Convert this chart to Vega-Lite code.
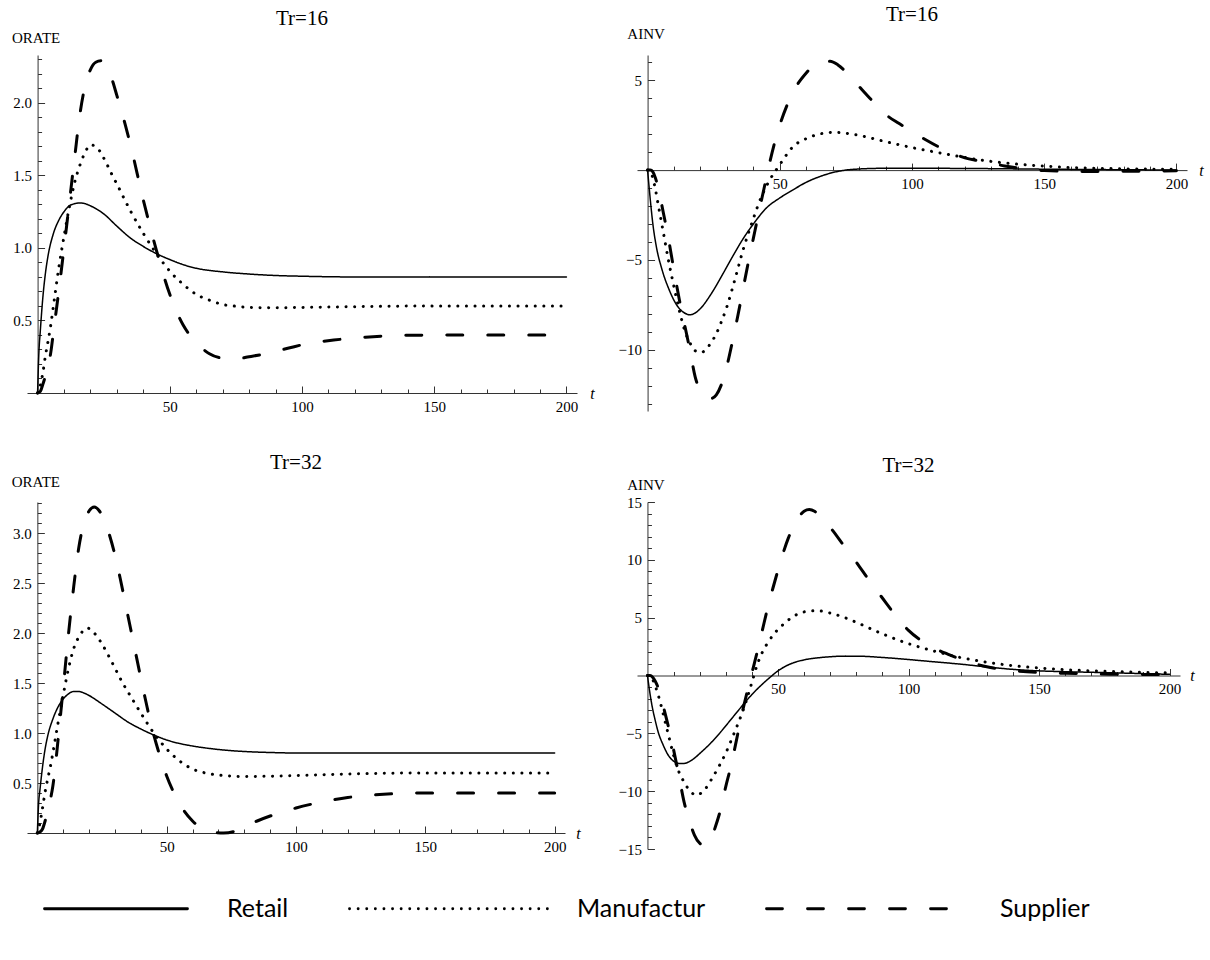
{
"$schema": "https://vega.github.io/schema/vega-lite/v6.json",
"padding": {"left": 11, "top": 4, "right": 5, "bottom": 2},
"background": "white",
"columns": 2,
"spacing": {"row": 35, "column": 22},
"datasets": {
"p1": [
{"s":"Retail","t":0,"v":0},{"s":"Retail","t":0.5,"v":0.28},{"s":"Retail","t":1,"v":0.42},{"s":"Retail","t":2,"v":0.66},{"s":"Retail","t":3,"v":0.83},{"s":"Retail","t":4,"v":0.95},{"s":"Retail","t":6,"v":1.1},{"s":"Retail","t":8,"v":1.19},{"s":"Retail","t":10,"v":1.25},{"s":"Retail","t":12,"v":1.29},{"s":"Retail","t":14,"v":1.305},{"s":"Retail","t":16,"v":1.31},{"s":"Retail","t":18,"v":1.305},{"s":"Retail","t":20,"v":1.29},{"s":"Retail","t":25,"v":1.235},{"s":"Retail","t":30,"v":1.15},{"s":"Retail","t":35,"v":1.07},{"s":"Retail","t":40,"v":1.01},{"s":"Retail","t":45,"v":0.96},{"s":"Retail","t":50,"v":0.92},{"s":"Retail","t":55,"v":0.885},{"s":"Retail","t":60,"v":0.86},{"s":"Retail","t":70,"v":0.835},{"s":"Retail","t":80,"v":0.82},{"s":"Retail","t":90,"v":0.81},{"s":"Retail","t":100,"v":0.805},{"s":"Retail","t":120,"v":0.8},{"s":"Retail","t":150,"v":0.8},{"s":"Retail","t":200,"v":0.8},
{"s":"Manufactur","t":0,"v":0},{"s":"Manufactur","t":1,"v":0.05},{"s":"Manufactur","t":2,"v":0.14},{"s":"Manufactur","t":3,"v":0.26},{"s":"Manufactur","t":4,"v":0.36},{"s":"Manufactur","t":5,"v":0.47},{"s":"Manufactur","t":6,"v":0.6},{"s":"Manufactur","t":8,"v":0.86},{"s":"Manufactur","t":10,"v":1.08},{"s":"Manufactur","t":12,"v":1.28},{"s":"Manufactur","t":14,"v":1.45},{"s":"Manufactur","t":16,"v":1.57},{"s":"Manufactur","t":18,"v":1.66},{"s":"Manufactur","t":20,"v":1.71},{"s":"Manufactur","t":22,"v":1.7},{"s":"Manufactur","t":25,"v":1.62},{"s":"Manufactur","t":28,"v":1.51},{"s":"Manufactur","t":30,"v":1.44},{"s":"Manufactur","t":35,"v":1.26},{"s":"Manufactur","t":40,"v":1.1},{"s":"Manufactur","t":45,"v":0.96},{"s":"Manufactur","t":50,"v":0.84},{"s":"Manufactur","t":55,"v":0.75},{"s":"Manufactur","t":60,"v":0.68},{"s":"Manufactur","t":65,"v":0.64},{"s":"Manufactur","t":70,"v":0.61},{"s":"Manufactur","t":75,"v":0.598},{"s":"Manufactur","t":80,"v":0.59},{"s":"Manufactur","t":90,"v":0.587},{"s":"Manufactur","t":100,"v":0.59},{"s":"Manufactur","t":120,"v":0.595},{"s":"Manufactur","t":150,"v":0.6},{"s":"Manufactur","t":200,"v":0.6},
{"s":"Supplier","t":0,"v":0},{"s":"Supplier","t":1,"v":0.01},{"s":"Supplier","t":2,"v":0.06},{"s":"Supplier","t":3,"v":0.12},{"s":"Supplier","t":4,"v":0.19},{"s":"Supplier","t":5,"v":0.28},{"s":"Supplier","t":6,"v":0.42},{"s":"Supplier","t":7,"v":0.56},{"s":"Supplier","t":8,"v":0.7},{"s":"Supplier","t":10,"v":1.0},{"s":"Supplier","t":12,"v":1.31},{"s":"Supplier","t":14,"v":1.62},{"s":"Supplier","t":16,"v":1.92},{"s":"Supplier","t":18,"v":2.12},{"s":"Supplier","t":20,"v":2.23},{"s":"Supplier","t":22,"v":2.28},{"s":"Supplier","t":24,"v":2.29},{"s":"Supplier","t":26,"v":2.25},{"s":"Supplier","t":28,"v":2.17},{"s":"Supplier","t":30,"v":2.05},{"s":"Supplier","t":33,"v":1.86},{"s":"Supplier","t":35,"v":1.72},{"s":"Supplier","t":40,"v":1.33},{"s":"Supplier","t":45,"v":0.98},{"s":"Supplier","t":50,"v":0.68},{"s":"Supplier","t":55,"v":0.47},{"s":"Supplier","t":60,"v":0.35},{"s":"Supplier","t":65,"v":0.27},{"s":"Supplier","t":70,"v":0.24},{"s":"Supplier","t":75,"v":0.235},{"s":"Supplier","t":80,"v":0.25},{"s":"Supplier","t":86,"v":0.27},{"s":"Supplier","t":95,"v":0.31},{"s":"Supplier","t":102,"v":0.34},{"s":"Supplier","t":112,"v":0.365},{"s":"Supplier","t":124,"v":0.385},{"s":"Supplier","t":140,"v":0.398},{"s":"Supplier","t":160,"v":0.4},{"s":"Supplier","t":200,"v":0.4}
],
"p2": [
{"s":"Retail","t":0,"v":0},{"s":"Retail","t":1,"v":-1.6},{"s":"Retail","t":2,"v":-3.0},{"s":"Retail","t":3,"v":-4.0},{"s":"Retail","t":4,"v":-4.75},{"s":"Retail","t":5,"v":-5.3},{"s":"Retail","t":6,"v":-5.8},{"s":"Retail","t":8,"v":-6.6},{"s":"Retail","t":10,"v":-7.25},{"s":"Retail","t":12,"v":-7.7},{"s":"Retail","t":14,"v":-7.95},{"s":"Retail","t":16,"v":-8.05},{"s":"Retail","t":18,"v":-7.95},{"s":"Retail","t":20,"v":-7.7},{"s":"Retail","t":24,"v":-6.9},{"s":"Retail","t":28,"v":-5.9},{"s":"Retail","t":32,"v":-4.85},{"s":"Retail","t":36,"v":-3.85},{"s":"Retail","t":40,"v":-3.0},{"s":"Retail","t":45,"v":-2.1},{"s":"Retail","t":50,"v":-1.55},{"s":"Retail","t":55,"v":-1.1},{"s":"Retail","t":60,"v":-0.68},{"s":"Retail","t":65,"v":-0.37},{"s":"Retail","t":70,"v":-0.14},{"s":"Retail","t":75,"v":0.0},{"s":"Retail","t":80,"v":0.06},{"s":"Retail","t":90,"v":0.1},{"s":"Retail","t":100,"v":0.1},{"s":"Retail","t":120,"v":0.09},{"s":"Retail","t":150,"v":0.05},{"s":"Retail","t":200,"v":0.0},
{"s":"Manufactur","t":0,"v":0},{"s":"Manufactur","t":1,"v":-0.05},{"s":"Manufactur","t":2,"v":-0.45},{"s":"Manufactur","t":3,"v":-1.1},{"s":"Manufactur","t":4,"v":-1.9},{"s":"Manufactur","t":5,"v":-2.7},{"s":"Manufactur","t":6,"v":-3.5},{"s":"Manufactur","t":8,"v":-5.1},{"s":"Manufactur","t":10,"v":-6.5},{"s":"Manufactur","t":12,"v":-7.8},{"s":"Manufactur","t":14,"v":-8.9},{"s":"Manufactur","t":16,"v":-9.6},{"s":"Manufactur","t":18,"v":-10.05},{"s":"Manufactur","t":20,"v":-10.15},{"s":"Manufactur","t":22,"v":-10.0},{"s":"Manufactur","t":24,"v":-9.6},{"s":"Manufactur","t":26,"v":-9.1},{"s":"Manufactur","t":28,"v":-8.4},{"s":"Manufactur","t":30,"v":-7.6},{"s":"Manufactur","t":33,"v":-6.1},{"s":"Manufactur","t":36,"v":-4.5},{"s":"Manufactur","t":40,"v":-2.7},{"s":"Manufactur","t":43,"v":-1.5},{"s":"Manufactur","t":46,"v":-0.6},{"s":"Manufactur","t":50,"v":0.3},{"s":"Manufactur","t":55,"v":1.3},{"s":"Manufactur","t":60,"v":1.75},{"s":"Manufactur","t":65,"v":2.0},{"s":"Manufactur","t":70,"v":2.1},{"s":"Manufactur","t":75,"v":2.05},{"s":"Manufactur","t":80,"v":1.93},{"s":"Manufactur","t":90,"v":1.58},{"s":"Manufactur","t":100,"v":1.25},{"s":"Manufactur","t":110,"v":0.97},{"s":"Manufactur","t":120,"v":0.7},{"s":"Manufactur","t":130,"v":0.48},{"s":"Manufactur","t":140,"v":0.33},{"s":"Manufactur","t":150,"v":0.22},{"s":"Manufactur","t":160,"v":0.14},{"s":"Manufactur","t":180,"v":0.07},{"s":"Manufactur","t":200,"v":0.04},
{"s":"Supplier","t":0,"v":0},{"s":"Supplier","t":1,"v":0},{"s":"Supplier","t":2,"v":-0.1},{"s":"Supplier","t":3,"v":-0.45},{"s":"Supplier","t":4,"v":-1.0},{"s":"Supplier","t":6,"v":-2.4},{"s":"Supplier","t":8,"v":-3.9},{"s":"Supplier","t":10,"v":-5.6},{"s":"Supplier","t":12,"v":-7.2},{"s":"Supplier","t":14,"v":-8.6},{"s":"Supplier","t":16,"v":-10.0},{"s":"Supplier","t":18,"v":-11.5},{"s":"Supplier","t":20,"v":-12.3},{"s":"Supplier","t":22,"v":-12.65},{"s":"Supplier","t":24,"v":-12.7},{"s":"Supplier","t":26,"v":-12.5},{"s":"Supplier","t":28,"v":-11.9},{"s":"Supplier","t":30,"v":-10.9},{"s":"Supplier","t":32,"v":-9.6},{"s":"Supplier","t":34,"v":-8.2},{"s":"Supplier","t":36,"v":-6.7},{"s":"Supplier","t":38,"v":-5.2},{"s":"Supplier","t":40,"v":-3.8},{"s":"Supplier","t":42,"v":-2.4},{"s":"Supplier","t":44,"v":-1.05},{"s":"Supplier","t":46,"v":0.3},{"s":"Supplier","t":48,"v":1.5},{"s":"Supplier","t":50,"v":2.5},{"s":"Supplier","t":53,"v":3.7},{"s":"Supplier","t":56,"v":4.6},{"s":"Supplier","t":60,"v":5.4},{"s":"Supplier","t":63,"v":5.85},{"s":"Supplier","t":66,"v":6.05},{"s":"Supplier","t":69,"v":6.05},{"s":"Supplier","t":72,"v":5.85},{"s":"Supplier","t":76,"v":5.3},{"s":"Supplier","t":80,"v":4.65},{"s":"Supplier","t":85,"v":3.85},{"s":"Supplier","t":90,"v":3.1},{"s":"Supplier","t":95,"v":2.6},{"s":"Supplier","t":100,"v":2.15},{"s":"Supplier","t":105,"v":1.7},{"s":"Supplier","t":110,"v":1.3},{"s":"Supplier","t":115,"v":0.97},{"s":"Supplier","t":120,"v":0.68},{"s":"Supplier","t":125,"v":0.52},{"s":"Supplier","t":130,"v":0.38},{"s":"Supplier","t":135,"v":0.23},{"s":"Supplier","t":140,"v":0.12},{"s":"Supplier","t":150,"v":-0.03},{"s":"Supplier","t":165,"v":-0.08},{"s":"Supplier","t":180,"v":-0.07},{"s":"Supplier","t":200,"v":-0.04}
],
"p3": [
{"s":"Retail","t":0,"v":0},{"s":"Retail","t":0.5,"v":0.3},{"s":"Retail","t":1,"v":0.43},{"s":"Retail","t":2,"v":0.66},{"s":"Retail","t":3,"v":0.84},{"s":"Retail","t":4,"v":0.97},{"s":"Retail","t":6,"v":1.14},{"s":"Retail","t":8,"v":1.26},{"s":"Retail","t":10,"v":1.34},{"s":"Retail","t":12,"v":1.39},{"s":"Retail","t":14,"v":1.415},{"s":"Retail","t":16,"v":1.415},{"s":"Retail","t":18,"v":1.4},{"s":"Retail","t":20,"v":1.375},{"s":"Retail","t":25,"v":1.29},{"s":"Retail","t":30,"v":1.2},{"s":"Retail","t":35,"v":1.11},{"s":"Retail","t":40,"v":1.04},{"s":"Retail","t":45,"v":0.98},{"s":"Retail","t":50,"v":0.93},{"s":"Retail","t":55,"v":0.895},{"s":"Retail","t":60,"v":0.87},{"s":"Retail","t":70,"v":0.835},{"s":"Retail","t":80,"v":0.815},{"s":"Retail","t":90,"v":0.805},{"s":"Retail","t":100,"v":0.8},{"s":"Retail","t":200,"v":0.8},
{"s":"Manufactur","t":0,"v":0},{"s":"Manufactur","t":1,"v":0.1},{"s":"Manufactur","t":2,"v":0.25},{"s":"Manufactur","t":3,"v":0.41},{"s":"Manufactur","t":4,"v":0.54},{"s":"Manufactur","t":5,"v":0.66},{"s":"Manufactur","t":6,"v":0.8},{"s":"Manufactur","t":8,"v":1.1},{"s":"Manufactur","t":10,"v":1.38},{"s":"Manufactur","t":12,"v":1.64},{"s":"Manufactur","t":14,"v":1.84},{"s":"Manufactur","t":16,"v":1.96},{"s":"Manufactur","t":18,"v":2.03},{"s":"Manufactur","t":19,"v":2.05},{"s":"Manufactur","t":20,"v":2.045},{"s":"Manufactur","t":22,"v":2.0},{"s":"Manufactur","t":25,"v":1.89},{"s":"Manufactur","t":28,"v":1.75},{"s":"Manufactur","t":30,"v":1.65},{"s":"Manufactur","t":33,"v":1.5},{"s":"Manufactur","t":36,"v":1.37},{"s":"Manufactur","t":40,"v":1.2},{"s":"Manufactur","t":45,"v":1.0},{"s":"Manufactur","t":50,"v":0.84},{"s":"Manufactur","t":55,"v":0.72},{"s":"Manufactur","t":60,"v":0.64},{"s":"Manufactur","t":65,"v":0.6},{"s":"Manufactur","t":70,"v":0.58},{"s":"Manufactur","t":80,"v":0.565},{"s":"Manufactur","t":90,"v":0.568},{"s":"Manufactur","t":100,"v":0.575},{"s":"Manufactur","t":120,"v":0.59},{"s":"Manufactur","t":150,"v":0.6},{"s":"Manufactur","t":200,"v":0.6},
{"s":"Supplier","t":0,"v":0},{"s":"Supplier","t":1,"v":0.01},{"s":"Supplier","t":2,"v":0.04},{"s":"Supplier","t":3,"v":0.12},{"s":"Supplier","t":4,"v":0.22},{"s":"Supplier","t":5,"v":0.33},{"s":"Supplier","t":6,"v":0.47},{"s":"Supplier","t":7,"v":0.68},{"s":"Supplier","t":8,"v":0.93},{"s":"Supplier","t":10,"v":1.45},{"s":"Supplier","t":12,"v":1.98},{"s":"Supplier","t":14,"v":2.45},{"s":"Supplier","t":16,"v":2.85},{"s":"Supplier","t":18,"v":3.1},{"s":"Supplier","t":20,"v":3.22},{"s":"Supplier","t":22,"v":3.26},{"s":"Supplier","t":24,"v":3.22},{"s":"Supplier","t":26,"v":3.12},{"s":"Supplier","t":28,"v":2.97},{"s":"Supplier","t":30,"v":2.78},{"s":"Supplier","t":32,"v":2.55},{"s":"Supplier","t":34,"v":2.3},{"s":"Supplier","t":36,"v":2.05},{"s":"Supplier","t":38,"v":1.8},{"s":"Supplier","t":40,"v":1.55},{"s":"Supplier","t":42,"v":1.31},{"s":"Supplier","t":44,"v":1.08},{"s":"Supplier","t":46,"v":0.89},{"s":"Supplier","t":48,"v":0.72},{"s":"Supplier","t":50,"v":0.57},{"s":"Supplier","t":53,"v":0.39},{"s":"Supplier","t":56,"v":0.25},{"s":"Supplier","t":60,"v":0.12},{"s":"Supplier","t":64,"v":0.04},{"s":"Supplier","t":68,"v":0.005},{"s":"Supplier","t":72,"v":0.0},{"s":"Supplier","t":76,"v":0.015},{"s":"Supplier","t":80,"v":0.06},{"s":"Supplier","t":85,"v":0.12},{"s":"Supplier","t":90,"v":0.17},{"s":"Supplier","t":95,"v":0.21},{"s":"Supplier","t":100,"v":0.25},{"s":"Supplier","t":110,"v":0.31},{"s":"Supplier","t":120,"v":0.355},{"s":"Supplier","t":130,"v":0.38},{"s":"Supplier","t":140,"v":0.395},{"s":"Supplier","t":150,"v":0.4},{"s":"Supplier","t":200,"v":0.4}
],
"p4": [
{"s":"Retail","t":0,"v":0},{"s":"Retail","t":1,"v":-1.6},{"s":"Retail","t":2,"v":-2.9},{"s":"Retail","t":3,"v":-3.9},{"s":"Retail","t":4,"v":-4.8},{"s":"Retail","t":6,"v":-6.0},{"s":"Retail","t":8,"v":-6.9},{"s":"Retail","t":10,"v":-7.4},{"s":"Retail","t":12,"v":-7.6},{"s":"Retail","t":14,"v":-7.6},{"s":"Retail","t":16,"v":-7.45},{"s":"Retail","t":18,"v":-7.15},{"s":"Retail","t":20,"v":-6.75},{"s":"Retail","t":24,"v":-5.9},{"s":"Retail","t":28,"v":-4.9},{"s":"Retail","t":32,"v":-3.8},{"s":"Retail","t":36,"v":-2.7},{"s":"Retail","t":40,"v":-1.65},{"s":"Retail","t":44,"v":-0.75},{"s":"Retail","t":47,"v":-0.15},{"s":"Retail","t":50,"v":0.4},{"s":"Retail","t":55,"v":1.02},{"s":"Retail","t":60,"v":1.35},{"s":"Retail","t":65,"v":1.52},{"s":"Retail","t":70,"v":1.62},{"s":"Retail","t":75,"v":1.67},{"s":"Retail","t":80,"v":1.67},{"s":"Retail","t":90,"v":1.56},{"s":"Retail","t":100,"v":1.38},{"s":"Retail","t":110,"v":1.18},{"s":"Retail","t":120,"v":0.98},{"s":"Retail","t":130,"v":0.74},{"s":"Retail","t":140,"v":0.53},{"s":"Retail","t":150,"v":0.4},{"s":"Retail","t":160,"v":0.33},{"s":"Retail","t":175,"v":0.25},{"s":"Retail","t":200,"v":0.1},
{"s":"Manufactur","t":0,"v":0},{"s":"Manufactur","t":1,"v":-0.05},{"s":"Manufactur","t":2,"v":-0.35},{"s":"Manufactur","t":3,"v":-0.9},{"s":"Manufactur","t":4,"v":-1.6},{"s":"Manufactur","t":5,"v":-2.4},{"s":"Manufactur","t":6,"v":-3.3},{"s":"Manufactur","t":8,"v":-5.1},{"s":"Manufactur","t":10,"v":-6.9},{"s":"Manufactur","t":12,"v":-8.3},{"s":"Manufactur","t":14,"v":-9.2},{"s":"Manufactur","t":16,"v":-9.9},{"s":"Manufactur","t":18,"v":-10.3},{"s":"Manufactur","t":19,"v":-10.35},{"s":"Manufactur","t":20,"v":-10.25},{"s":"Manufactur","t":22,"v":-9.85},{"s":"Manufactur","t":25,"v":-8.8},{"s":"Manufactur","t":28,"v":-7.6},{"s":"Manufactur","t":30,"v":-6.7},{"s":"Manufactur","t":33,"v":-5.1},{"s":"Manufactur","t":36,"v":-3.4},{"s":"Manufactur","t":38,"v":-2.1},{"s":"Manufactur","t":40,"v":-0.6},{"s":"Manufactur","t":42,"v":0.9},{"s":"Manufactur","t":44,"v":2.0},{"s":"Manufactur","t":46,"v":2.8},{"s":"Manufactur","t":48.5,"v":3.6},{"s":"Manufactur","t":51,"v":4.2},{"s":"Manufactur","t":54,"v":4.8},{"s":"Manufactur","t":57,"v":5.25},{"s":"Manufactur","t":60,"v":5.5},{"s":"Manufactur","t":65,"v":5.6},{"s":"Manufactur","t":70,"v":5.4},{"s":"Manufactur","t":75,"v":5.05},{"s":"Manufactur","t":80,"v":4.6},{"s":"Manufactur","t":90,"v":3.6},{"s":"Manufactur","t":100,"v":2.75},{"s":"Manufactur","t":110,"v":2.1},{"s":"Manufactur","t":120,"v":1.55},{"s":"Manufactur","t":130,"v":1.15},{"s":"Manufactur","t":140,"v":0.85},{"s":"Manufactur","t":150,"v":0.65},{"s":"Manufactur","t":160,"v":0.5},{"s":"Manufactur","t":175,"v":0.37},{"s":"Manufactur","t":200,"v":0.22},
{"s":"Supplier","t":0,"v":0},{"s":"Supplier","t":1,"v":0},{"s":"Supplier","t":2,"v":-0.15},{"s":"Supplier","t":3,"v":-0.5},{"s":"Supplier","t":4,"v":-1.0},{"s":"Supplier","t":6,"v":-2.6},{"s":"Supplier","t":8,"v":-4.4},{"s":"Supplier","t":10,"v":-6.4},{"s":"Supplier","t":12,"v":-8.6},{"s":"Supplier","t":14,"v":-10.9},{"s":"Supplier","t":16,"v":-12.5},{"s":"Supplier","t":18,"v":-13.8},{"s":"Supplier","t":20,"v":-14.5},{"s":"Supplier","t":22,"v":-14.7},{"s":"Supplier","t":24,"v":-14.3},{"s":"Supplier","t":26,"v":-13.1},{"s":"Supplier","t":28,"v":-11.6},{"s":"Supplier","t":30,"v":-9.6},{"s":"Supplier","t":32,"v":-7.8},{"s":"Supplier","t":34,"v":-5.7},{"s":"Supplier","t":36,"v":-3.5},{"s":"Supplier","t":38,"v":-1.6},{"s":"Supplier","t":40,"v":0.2},{"s":"Supplier","t":42,"v":2.0},{"s":"Supplier","t":44,"v":3.9},{"s":"Supplier","t":46,"v":5.8},{"s":"Supplier","t":48,"v":7.5},{"s":"Supplier","t":50,"v":9.1},{"s":"Supplier","t":52,"v":10.6},{"s":"Supplier","t":54,"v":11.9},{"s":"Supplier","t":56,"v":12.9},{"s":"Supplier","t":58,"v":13.7},{"s":"Supplier","t":60,"v":14.2},{"s":"Supplier","t":62,"v":14.35},{"s":"Supplier","t":64,"v":14.2},{"s":"Supplier","t":66,"v":13.8},{"s":"Supplier","t":70,"v":12.8},{"s":"Supplier","t":75,"v":11.3},{"s":"Supplier","t":80,"v":9.8},{"s":"Supplier","t":85,"v":8.2},{"s":"Supplier","t":90,"v":6.7},{"s":"Supplier","t":95,"v":5.2},{"s":"Supplier","t":100,"v":3.9},{"s":"Supplier","t":105,"v":3.0},{"s":"Supplier","t":110,"v":2.35},{"s":"Supplier","t":115,"v":1.85},{"s":"Supplier","t":120,"v":1.4},{"s":"Supplier","t":125,"v":1.05},{"s":"Supplier","t":130,"v":0.75},{"s":"Supplier","t":135,"v":0.57},{"s":"Supplier","t":140,"v":0.43},{"s":"Supplier","t":150,"v":0.26},{"s":"Supplier","t":165,"v":0.17},{"s":"Supplier","t":180,"v":0.1},{"s":"Supplier","t":200,"v":0.09}
]
},
"concat": [
{
"width": 550, "height": 338,
"title": {"text": "Tr=16"},
"data": {"name": "p1"},
"encoding": {
"x": {"field": "t", "type": "quantitative", "scale": {"domain": [-4, 204], "nice": false, "zero": false},
 "axis": {"values": [10,20,30,40,50,60,70,80,90,100,110,120,130,140,150,160,170,180,190,200], "labelExpr": "datum.value % 50 === 0 ? datum.label : ''", "tickSize": {"condition": {"test": "datum.value % 50 === 0", "value": -7}, "value": -4}, "labelPadding": 13, "labelFont": "Liberation Serif", "labelFontSize": 15, "titleFont": "Liberation Serif", "title": "t", "titleFontStyle": "italic", "titleFontWeight": "normal", "titleFontSize": 16, "titleX": 565, "titleY": 0, "titleAlign": "center", "titleBaseline": "middle", "titleAngle": 0}},
"y": {"field": "v", "type": "quantitative", "scale": {"domain": [0, 2.33], "nice": false, "zero": false},
 "axis": {"values": [0.1,0.2,0.3,0.4,0.5,0.6,0.7,0.8,0.9,1.0,1.1,1.2,1.3,1.4,1.5,1.6,1.7,1.8,1.9,2.0,2.1,2.2,2.3], "labelExpr": "round(datum.value*10) % 5 === 0 ? format(datum.value, '.1f') : ''", "tickSize": {"condition": {"test": "round(datum.value*10) % 5 === 0", "value": -7}, "value": -4}, "offset": -10.58, "labelPadding": 13, "labelFont": "Liberation Serif", "labelFontSize": 15, "titleFont": "Liberation Serif", "titleFontWeight": "normal", "titleFontSize": 15, "title": "ORATE", "titleAngle": 0, "titleX": -2, "titleY": -18, "titleAlign": "center", "titleBaseline": "middle"}},
"strokeDash": {"field": "s", "type": "nominal", "scale": {"domain": ["Retail","Manufactur","Supplier"], "range": [[1,0],[0.1,8.5],[16,25]]},
 "legend": {"orient": "none", "legendX": 67, "legendY": 832, "direction": "horizontal", "title": null, "symbolType": "M-3.6,0H3.6", "symbolSize": 1600, "symbolStrokeWidth": 2.8, "symbolStrokeColor": "black", "labelFont": "Lato", "labelFontSize": 25, "labelColor": "black", "labelOffset": 90, "columnPadding": 54, "encode": {"symbols": {"update": {"shape": {"signal": "datum.value === 'Retail' ? 'M-3.55,0H3.6' : (datum.value === 'Manufactur' ? 'M-5.8,0H4.1' : 'M-6.1,0H3.25')"}, "strokeCap": {"value": "round"}, "stroke": {"value": "black"}, "strokeOpacity": {"value": 1}}}}}}
},
"layer": [
{"transform": [{"filter": "datum.s === 'Retail'"}], "mark": {"type": "line", "strokeWidth": 1.5}},
{"transform": [{"filter": "datum.s === 'Manufactur'"}], "mark": {"type": "line", "strokeWidth": 3}},
{"transform": [{"filter": "datum.s === 'Supplier'"}], "mark": {"type": "line", "strokeWidth": 3}}
]
},
{
"width": 550, "height": 356,
"title": {"text": "Tr=16"},
"data": {"name": "p2"},
"encoding": {
"x": {"field": "t", "type": "quantitative", "scale": {"domain": [-4, 204], "nice": false, "zero": false},
 "axis": {"values": [10,20,30,40,50,60,70,80,90,100,110,120,130,140,150,160,170,180,190,200], "labelExpr": "datum.value % 50 === 0 ? datum.label : ''", "tickSize": {"condition": {"test": "datum.value % 50 === 0", "value": -7}, "value": -4}, "labelPadding": 13, "labelFont": "Liberation Serif", "labelFontSize": 15, "titleFont": "Liberation Serif", "offset": -240.9, "title": "t", "titleFontStyle": "italic", "titleFontWeight": "normal", "titleFontSize": 16, "titleX": 564, "titleY": 0, "titleAlign": "center", "titleBaseline": "middle", "titleAngle": 0}},
"y": {"field": "v", "type": "quantitative", "scale": {"domain": [-13.4, 6.4], "nice": false, "zero": false},
 "axis": {"values": [-13,-12,-11,-10,-9,-8,-7,-6,-5,-4,-3,-2,-1,1,2,3,4,5,6], "labelExpr": "datum.value % 5 === 0 ? (datum.value < 0 ? '−' + abs(datum.value) : '' + datum.value) : ''", "tickSize": {"condition": {"test": "datum.value % 5 === 0", "value": -7}, "value": -4}, "offset": -10.58, "labelPadding": 13, "labelFont": "Liberation Serif", "labelFontSize": 15, "titleFont": "Liberation Serif", "titleFontWeight": "normal", "titleFontSize": 15, "title": "AINV", "titleAngle": 0, "titleX": -2, "titleY": -22, "titleAlign": "center", "titleBaseline": "middle"}},
"strokeDash": {"field": "s", "type": "nominal", "scale": {"domain": ["Retail","Manufactur","Supplier"], "range": [[1,0],[0.1,8.5],[16,25]]},
 "legend": {"orient": "none", "legendX": 67, "legendY": 832, "direction": "horizontal", "title": null, "symbolType": "M-3.6,0H3.6", "symbolSize": 1600, "symbolStrokeWidth": 2.8, "symbolStrokeColor": "black", "labelFont": "Lato", "labelFontSize": 25, "labelColor": "black", "labelOffset": 90, "columnPadding": 54, "encode": {"symbols": {"update": {"shape": {"signal": "datum.value === 'Retail' ? 'M-3.55,0H3.6' : (datum.value === 'Manufactur' ? 'M-5.8,0H4.1' : 'M-6.1,0H3.25')"}, "strokeCap": {"value": "round"}, "stroke": {"value": "black"}, "strokeOpacity": {"value": 1}}}}}}
},
"layer": [
{"transform": [{"filter": "datum.s === 'Retail'"}], "mark": {"type": "line", "strokeWidth": 1.5}},
{"transform": [{"filter": "datum.s === 'Manufactur'"}], "mark": {"type": "line", "strokeWidth": 3}},
{"transform": [{"filter": "datum.s === 'Supplier'"}], "mark": {"type": "line", "strokeWidth": 3}}
]
},
{
"width": 538, "height": 331,
"title": {"text": "Tr=32"},
"data": {"name": "p3"},
"encoding": {
"x": {"field": "t", "type": "quantitative", "scale": {"domain": [-4, 204], "nice": false, "zero": false},
 "axis": {"values": [10,20,30,40,50,60,70,80,90,100,110,120,130,140,150,160,170,180,190,200], "labelExpr": "datum.value % 50 === 0 ? datum.label : ''", "tickSize": {"condition": {"test": "datum.value % 50 === 0", "value": -7}, "value": -4}, "labelPadding": 13, "labelFont": "Liberation Serif", "labelFontSize": 15, "titleFont": "Liberation Serif", "title": "t", "titleFontStyle": "italic", "titleFontWeight": "normal", "titleFontSize": 16, "titleX": 551, "titleY": 0, "titleAlign": "center", "titleBaseline": "middle", "titleAngle": 0}},
"y": {"field": "v", "type": "quantitative", "scale": {"domain": [0, 3.31], "nice": false, "zero": false},
 "axis": {"values": [0.1,0.2,0.3,0.4,0.5,0.6,0.7,0.8,0.9,1.0,1.1,1.2,1.3,1.4,1.5,1.6,1.7,1.8,1.9,2.0,2.1,2.2,2.3,2.4,2.5,2.6,2.7,2.8,2.9,3.0,3.1,3.2,3.3], "labelExpr": "round(datum.value*10) % 5 === 0 ? format(datum.value, '.1f') : ''", "tickSize": {"condition": {"test": "round(datum.value*10) % 5 === 0", "value": -7}, "value": -4}, "offset": -10.35, "labelPadding": 13, "labelFont": "Liberation Serif", "labelFontSize": 15, "titleFont": "Liberation Serif", "titleFontWeight": "normal", "titleFontSize": 15, "title": "ORATE", "titleAngle": 0, "titleX": -2, "titleY": -21, "titleAlign": "center", "titleBaseline": "middle"}},
"strokeDash": {"field": "s", "type": "nominal", "scale": {"domain": ["Retail","Manufactur","Supplier"], "range": [[1,0],[0.1,8.5],[16,25]]},
 "legend": {"orient": "none", "legendX": 67, "legendY": 832, "direction": "horizontal", "title": null, "symbolType": "M-3.6,0H3.6", "symbolSize": 1600, "symbolStrokeWidth": 2.8, "symbolStrokeColor": "black", "labelFont": "Lato", "labelFontSize": 25, "labelColor": "black", "labelOffset": 90, "columnPadding": 54, "encode": {"symbols": {"update": {"shape": {"signal": "datum.value === 'Retail' ? 'M-3.55,0H3.6' : (datum.value === 'Manufactur' ? 'M-5.8,0H4.1' : 'M-6.1,0H3.25')"}, "strokeCap": {"value": "round"}, "stroke": {"value": "black"}, "strokeOpacity": {"value": 1}}}}}}
},
"layer": [
{"transform": [{"filter": "datum.s === 'Retail'"}], "mark": {"type": "line", "strokeWidth": 1.5}},
{"transform": [{"filter": "datum.s === 'Manufactur'"}], "mark": {"type": "line", "strokeWidth": 3}},
{"transform": [{"filter": "datum.s === 'Supplier'"}], "mark": {"type": "line", "strokeWidth": 3}}
]
},
{
"width": 543, "height": 347,
"title": {"text": "Tr=32"},
"data": {"name": "p4"},
"encoding": {
"x": {"field": "t", "type": "quantitative", "scale": {"domain": [-4, 204], "nice": false, "zero": false},
 "axis": {"values": [10,20,30,40,50,60,70,80,90,100,110,120,130,140,150,160,170,180,190,200], "labelExpr": "datum.value % 50 === 0 ? datum.label : ''", "tickSize": {"condition": {"test": "datum.value % 50 === 0", "value": -7}, "value": -4}, "labelPadding": 13, "labelFont": "Liberation Serif", "labelFontSize": 15, "titleFont": "Liberation Serif", "offset": -173.5, "title": "t", "titleFontStyle": "italic", "titleFontWeight": "normal", "titleFontSize": 16, "titleX": 555, "titleY": 0, "titleAlign": "center", "titleBaseline": "middle", "titleAngle": 0}},
"y": {"field": "v", "type": "quantitative", "scale": {"domain": [-15, 15], "nice": false, "zero": false},
 "axis": {"values": [-15,-14,-13,-12,-11,-10,-9,-8,-7,-6,-5,-4,-3,-2,-1,1,2,3,4,5,6,7,8,9,10,11,12,13,14,15], "labelExpr": "datum.value % 5 === 0 ? (datum.value < 0 ? '−' + abs(datum.value) : '' + datum.value) : ''", "tickSize": {"condition": {"test": "datum.value % 5 === 0", "value": -7}, "value": -4}, "offset": -10.44, "labelPadding": 13, "labelFont": "Liberation Serif", "labelFontSize": 15, "titleFont": "Liberation Serif", "titleFontWeight": "normal", "titleFontSize": 15, "title": "AINV", "titleAngle": 0, "titleX": -2, "titleY": -18, "titleAlign": "center", "titleBaseline": "middle"}},
"strokeDash": {"field": "s", "type": "nominal", "scale": {"domain": ["Retail","Manufactur","Supplier"], "range": [[1,0],[0.1,8.5],[16,25]]},
 "legend": {"orient": "none", "legendX": 67, "legendY": 832, "direction": "horizontal", "title": null, "symbolType": "M-3.6,0H3.6", "symbolSize": 1600, "symbolStrokeWidth": 2.8, "symbolStrokeColor": "black", "labelFont": "Lato", "labelFontSize": 25, "labelColor": "black", "labelOffset": 90, "columnPadding": 54, "encode": {"symbols": {"update": {"shape": {"signal": "datum.value === 'Retail' ? 'M-3.55,0H3.6' : (datum.value === 'Manufactur' ? 'M-5.8,0H4.1' : 'M-6.1,0H3.25')"}, "strokeCap": {"value": "round"}, "stroke": {"value": "black"}, "strokeOpacity": {"value": 1}}}}}}
},
"layer": [
{"transform": [{"filter": "datum.s === 'Retail'"}], "mark": {"type": "line", "strokeWidth": 1.5}},
{"transform": [{"filter": "datum.s === 'Manufactur'"}], "mark": {"type": "line", "strokeWidth": 3}},
{"transform": [{"filter": "datum.s === 'Supplier'"}], "mark": {"type": "line", "strokeWidth": 3}}
]
}
],
"config": {
"view": {"stroke": null},
"axis": {"grid": false, "domainColor": "#333333", "tickColor": "#333333", "domainWidth": 1, "tickWidth": 1, "labelColor": "black", "titleColor": "black", "labelFlush": false, "labelOverlap": false},
"style": {"guide-label": {"font": "Liberation Serif", "fontSize": 15}, "guide-title": {"font": "Liberation Serif", "fontSize": 15, "fontWeight": "normal"}},
"title": {"font": "Liberation Serif", "fontSize": 21, "fontWeight": "normal", "color": "black", "anchor": "middle", "frame": "group", "offset": 1},
"line": {"interpolate": "monotone", "color": "black", "strokeCap": "round"}
}
}
